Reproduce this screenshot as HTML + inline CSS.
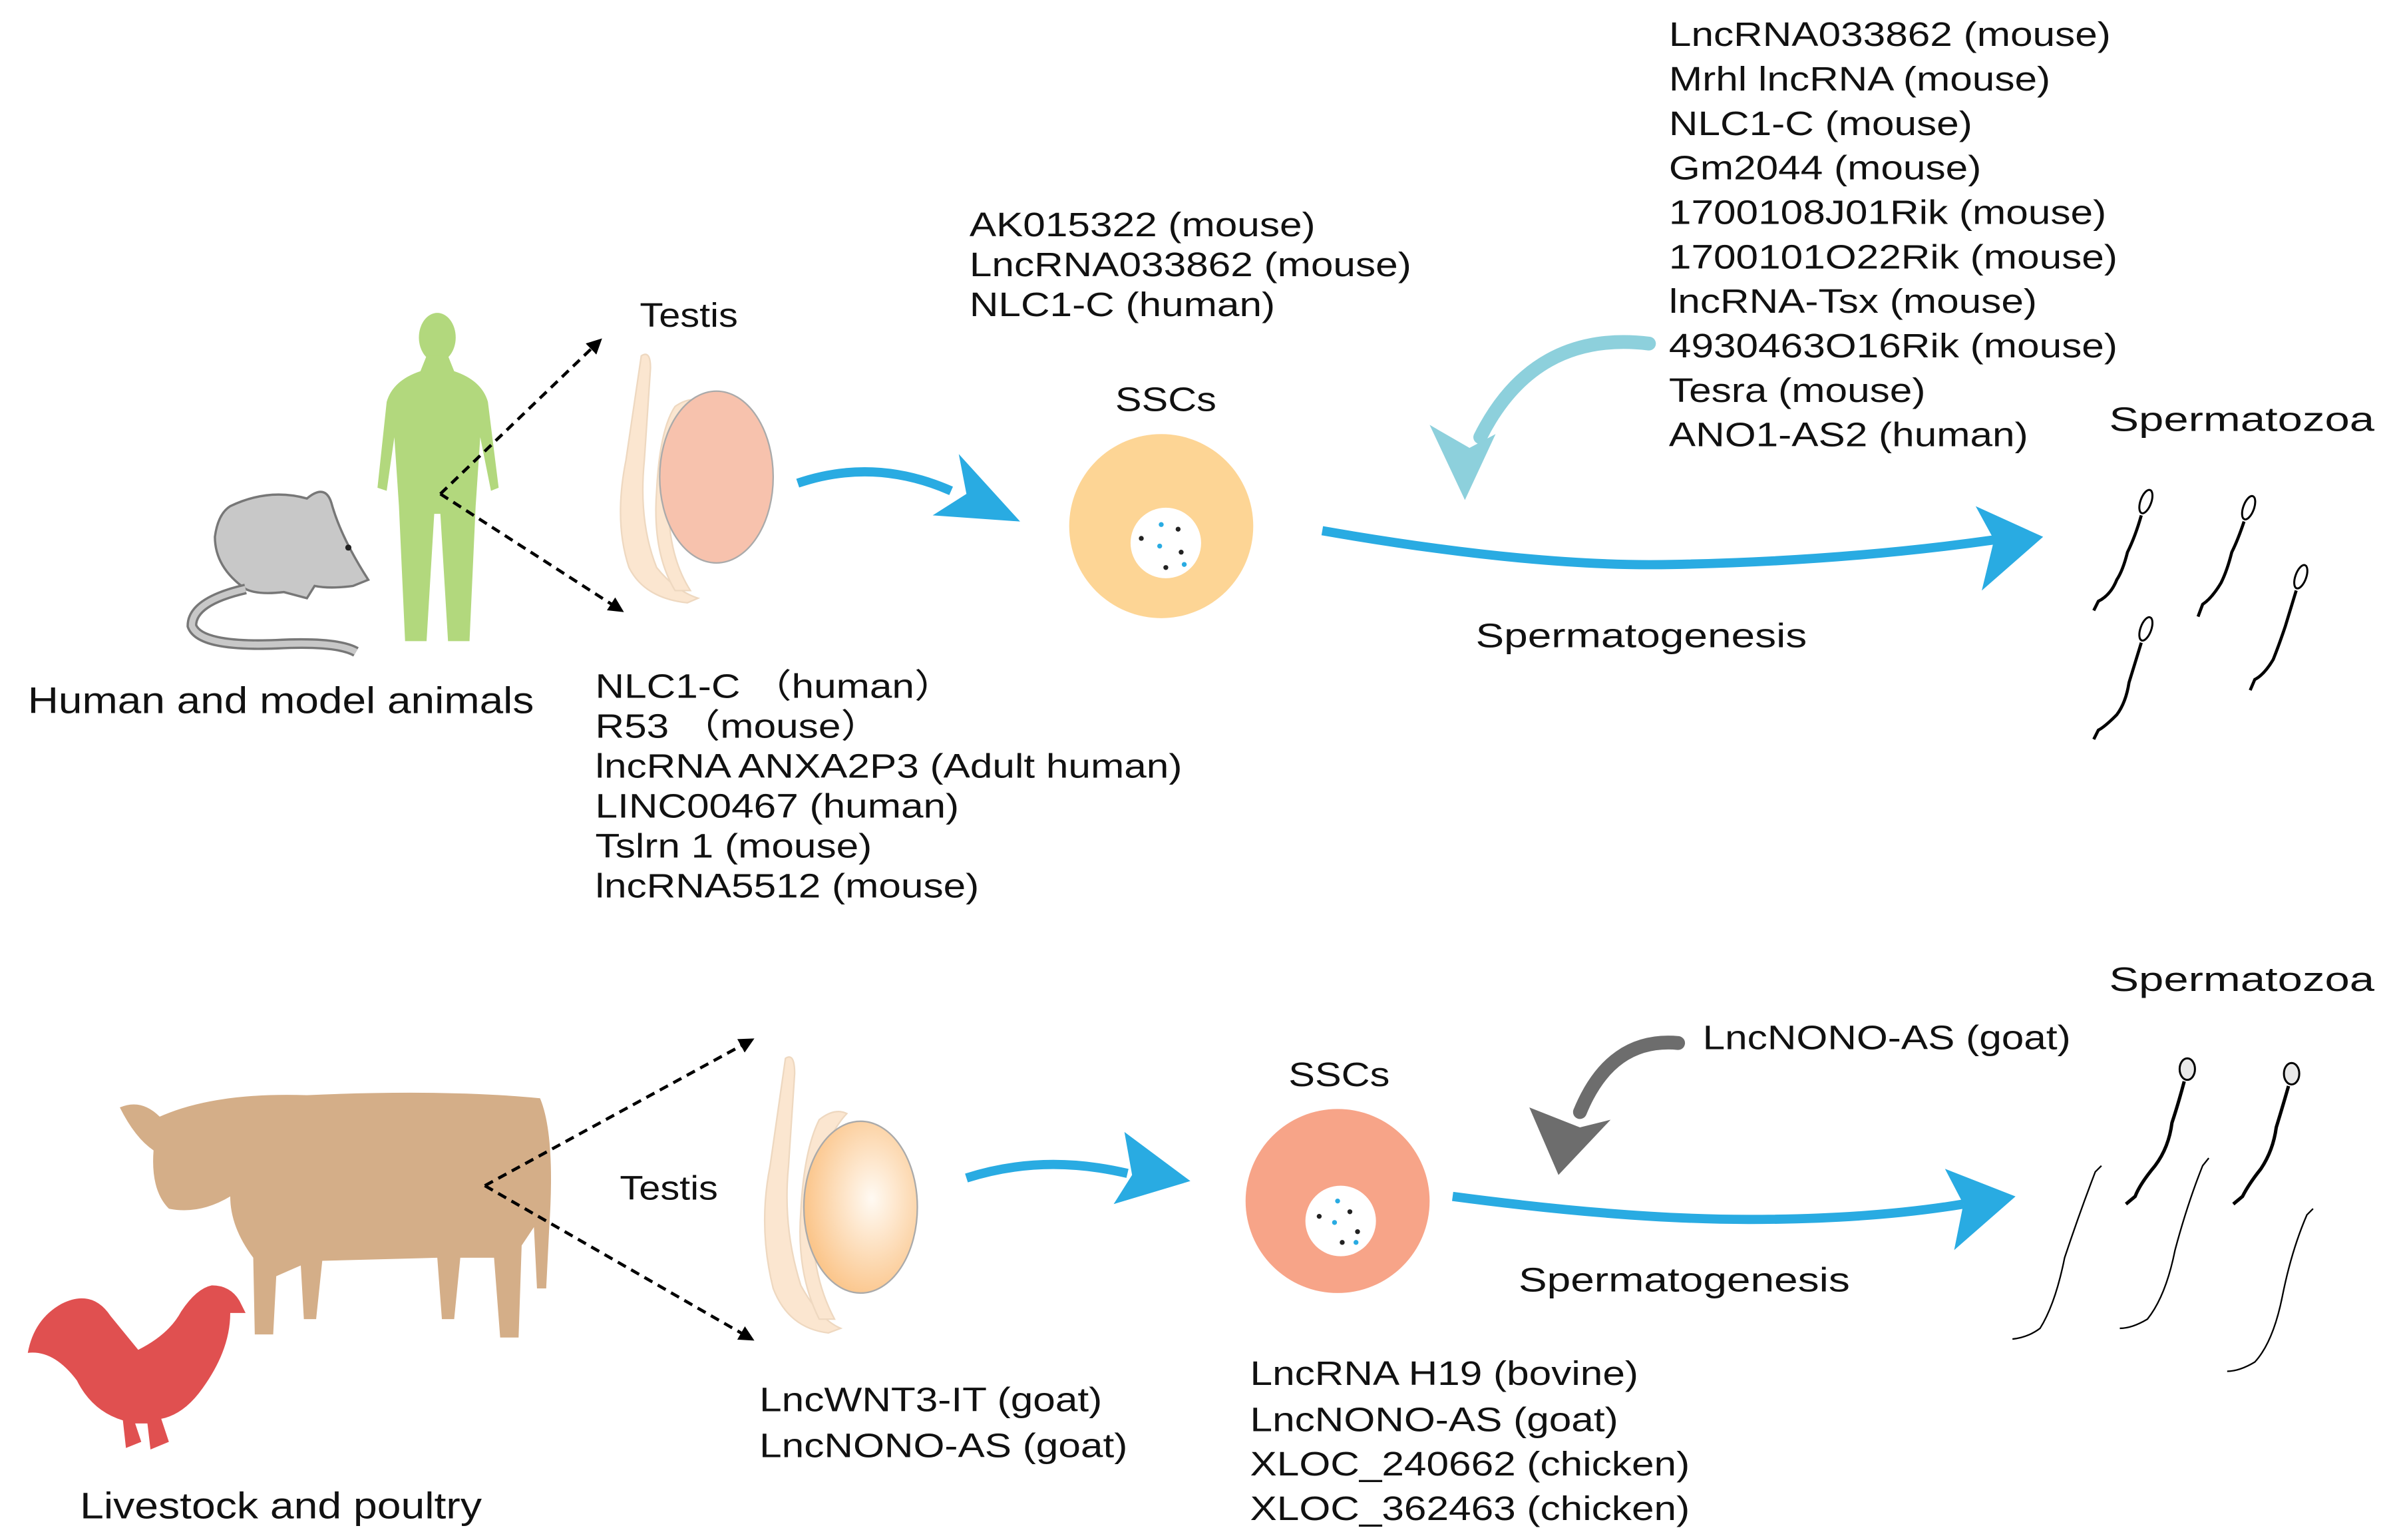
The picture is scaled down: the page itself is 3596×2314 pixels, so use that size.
<!DOCTYPE html>
<html><head><meta charset="utf-8"><style>
html,body{margin:0;padding:0;background:#fff;}
svg{display:block;}
text{font-family:"Liberation Sans",Arial,sans-serif;fill:#111;}
</style></head><body>
<svg width="3596" height="2314" viewBox="0 0 1560 1004" xmlns="http://www.w3.org/2000/svg">
<defs>
<marker id="ah" markerWidth="10" markerHeight="10" refX="8" refY="5" orient="auto" markerUnits="userSpaceOnUse"><path d="M0,0 L10,5 L0,10 Z" fill="#000"/></marker>
<radialGradient id="tg" cx="0.6" cy="0.45" r="0.6"><stop offset="0" stop-color="#fffaf3"/><stop offset="1" stop-color="#fbc58a"/></radialGradient>
</defs>
<rect width="1560" height="1004" fill="#fff"/>

<!-- mouse -->
<path d="M150,330 Q175,318 200,325 Q212,315 216,328 Q222,350 240,378 L230,382 Q215,384 205,382 L200,390 L185,386 Q168,388 160,384 Q140,370 140,350 Q142,335 150,330 Z" fill="#c8c8c8" stroke="#777" stroke-width="1.5"/>
<path d="M160,384 Q125,392 125,408 Q130,422 180,420 Q220,418 232,425" fill="none" stroke="#777" stroke-width="7"/>
<path d="M160,384 Q125,392 125,408 Q130,422 180,420 Q220,418 232,425" fill="none" stroke="#c8c8c8" stroke-width="4"/>
<circle cx="227" cy="357" r="2" fill="#222"/>
<!-- human -->
<g fill="#b2d87d">
<ellipse cx="285" cy="220" rx="12" ry="16"/>
<path d="M278,232 L292,232 L296,242 Q314,248 318,262 L325,318 L320,320 L313,285 L310,330 L306,418 L292,418 L287,335 L283,335 L278,418 L264,418 L260,330 L257,285 L252,320 L246,318 L252,262 Q256,248 274,242 Z"/>
</g>
<line x1="287" y1="322" x2="391" y2="222" stroke="#000" stroke-width="2" stroke-dasharray="6,4" marker-end="url(#ah)"/>
<line x1="287" y1="322" x2="405" y2="398" stroke="#000" stroke-width="2" stroke-dasharray="6,4" marker-end="url(#ah)"/>

<text x="18" y="465" font-size="24" textLength="330" lengthAdjust="spacingAndGlyphs">Human and model animals</text>
<text x="417" y="213" font-size="22" textLength="64" lengthAdjust="spacingAndGlyphs">Testis</text>

<path d="M418,232 Q424,228 424,240 L420,300 Q416,340 428,370 Q440,385 455,390 L448,393 Q420,390 410,370 Q400,340 408,300 Z" fill="#fbe6d0" stroke="#eed8c0" stroke-width="1"/>
<path d="M440,265 Q450,258 458,262 Q440,280 436,320 Q434,360 450,385 L440,385 Q425,360 428,320 Q430,280 440,265 Z" fill="#fbe6d0" stroke="#eed8c0"/>
<ellipse cx="467" cy="311" rx="37" ry="56" fill="#f7c2ad" stroke="#aaa" stroke-width="1"/>

<path d="M520,315 Q570,298 620,320" fill="none" stroke="#29abe2" stroke-width="6"/>
<path d="M625,296 L665,340 L608,336 L630,322 Z" fill="#29abe2"/>

<text x="727" y="268" font-size="22" textLength="66" lengthAdjust="spacingAndGlyphs">SSCs</text>
<circle cx="757" cy="343" r="60" fill="#fdd595"/>
<circle cx="760" cy="354" r="23" fill="#fff"/>
<g fill="#222"><circle cx="744" cy="351" r="1.6"/><circle cx="768" cy="345" r="1.6"/><circle cx="770" cy="360" r="1.6"/><circle cx="760" cy="370" r="1.6"/></g>
<g fill="#29abe2"><circle cx="757" cy="342" r="1.6"/><circle cx="756" cy="356" r="1.6"/><circle cx="772" cy="368" r="1.6"/></g>

<g transform="matrix(1.19,0,0,1,-120.1,0)"><text font-size="22"><tspan x="632" y="154">AK015322 (mouse)</tspan><tspan x="632" y="180">LncRNA033862 (mouse)</tspan><tspan x="632" y="206">NLC1-C (human)</tspan></text></g>

<g transform="matrix(1.19,0,0,1,-73.7,0)"><text font-size="22"><tspan x="388" y="455">NLC1-C （human）</tspan><tspan x="388" y="481">R53 （mouse）</tspan><tspan x="388" y="507">lncRNA ANXA2P3 (Adult human)</tspan><tspan x="388" y="533">LINC00467 (human)</tspan><tspan x="388" y="559">Tslrn 1 (mouse)</tspan><tspan x="388" y="585">lncRNA5512 (mouse)</tspan></text></g>

<path d="M862,346 Q1000,370 1090,368 Q1200,366 1300,352" fill="none" stroke="#29abe2" stroke-width="6"/>
<path d="M1288,330 L1332,350 L1292,385 L1300,352 Z" fill="#29abe2"/>
<text x="962" y="422" font-size="22" textLength="216" lengthAdjust="spacingAndGlyphs">Spermatogenesis</text>

<path d="M1075,224 Q1000,215 965,285" fill="none" stroke="#8dd0dc" stroke-width="9" stroke-linecap="round"/>
<path d="M932,277 L955,326 L975,283 L958,292 Z" fill="#8dd0dc"/>

<g transform="matrix(1.19,0,0,1,-206.7,0)"><text font-size="22"><tspan x="1088" y="30">LncRNA033862 (mouse)</tspan><tspan x="1088" y="59">Mrhl lncRNA (mouse)</tspan><tspan x="1088" y="88">NLC1-C (mouse)</tspan><tspan x="1088" y="117">Gm2044 (mouse)</tspan><tspan x="1088" y="146">1700108J01Rik (mouse)</tspan><tspan x="1088" y="175">1700101O22Rik (mouse)</tspan><tspan x="1088" y="204">lncRNA-Tsx (mouse)</tspan><tspan x="1088" y="233">4930463O16Rik (mouse)</tspan><tspan x="1088" y="262">Tesra (mouse)</tspan><tspan x="1088" y="291">ANO1-AS2 (human)</tspan></text></g>
<text x="1375" y="281" font-size="22" textLength="173" lengthAdjust="spacingAndGlyphs">Spermatozoa</text>

<g fill="#fff" stroke="#000" stroke-width="1.3">
<ellipse cx="1399" cy="327" rx="3.5" ry="8" transform="rotate(20 1399 327)"/>
<ellipse cx="1466" cy="331" rx="3.5" ry="8" transform="rotate(20 1466 331)"/>
<ellipse cx="1500" cy="376" rx="3.5" ry="8" transform="rotate(20 1500 376)"/>
<ellipse cx="1399" cy="410" rx="3.5" ry="8" transform="rotate(20 1399 410)"/>
</g>
<g fill="none" stroke="#000" stroke-width="2">
<path d="M1396,336 Q1392,350 1387,360 Q1384,372 1380,378 Q1376,388 1368,392 L1365,398"/>
<path d="M1463,340 Q1459,352 1455,360 Q1452,372 1448,380 Q1442,390 1436,394 L1433,402"/>
<path d="M1497,385 Q1493,398 1490,408 Q1486,420 1482,430 Q1476,440 1470,443 L1467,450"/>
<path d="M1396,419 Q1392,432 1388,445 Q1386,458 1380,466 Q1372,474 1368,476 L1365,482"/>
</g>

<!-- bottom -->
<path d="M78,722 Q92,716 104,728 Q140,712 200,714 Q290,710 352,716 Q362,740 358,800 L356,840 L350,840 L348,800 L340,812 L338,872 L326,872 L322,820 L300,820 L296,860 L288,860 L285,820 L210,822 L206,860 L198,860 L196,825 L180,832 L178,870 L166,870 L165,820 Q150,800 150,780 Q130,792 110,788 Q98,776 100,750 Q88,742 78,722 Z" fill="#d4ae88"/>
<path d="M40,850 Q60,840 72,858 L90,880 Q110,870 118,855 Q128,840 138,838 Q150,838 156,848 L160,856 L150,856 Q150,880 132,905 Q120,922 105,925 L110,940 L98,945 L96,928 L88,928 L92,940 L82,944 L80,926 Q60,920 50,900 Q35,880 18,882 Q22,860 40,850 Z" fill="#e05050"/>
<line x1="316" y1="773" x2="490" y2="678" stroke="#000" stroke-width="2" stroke-dasharray="6,4" marker-end="url(#ah)"/>
<line x1="316" y1="773" x2="490" y2="873" stroke="#000" stroke-width="2" stroke-dasharray="6,4" marker-end="url(#ah)"/>
<text x="404" y="782" font-size="22" textLength="64" lengthAdjust="spacingAndGlyphs">Testis</text>
<text x="52" y="990" font-size="24" textLength="262" lengthAdjust="spacingAndGlyphs">Livestock and poultry</text>

<path d="M512,690 Q518,686 518,700 L514,760 Q510,800 522,838 Q534,860 548,866 L540,869 Q514,866 504,840 Q494,800 502,760 Z" fill="#fbe6d0" stroke="#eed8c0"/>
<path d="M534,730 Q544,722 552,726 Q534,745 530,790 Q528,830 544,860 L534,860 Q519,830 522,790 Q524,750 534,730 Z" fill="#fbe6d0" stroke="#eed8c0"/>
<ellipse cx="561" cy="787" rx="37" ry="56" fill="url(#tg)" stroke="#aaa"/>

<path d="M630,768 Q680,752 735,765" fill="none" stroke="#29abe2" stroke-width="6"/>
<path d="M733,738 L776,770 L726,785 L738,766 Z" fill="#29abe2"/>

<text x="840" y="708" font-size="22" textLength="66" lengthAdjust="spacingAndGlyphs">SSCs</text>
<circle cx="872" cy="783" r="60" fill="#f7a488"/>
<circle cx="874" cy="796" r="23" fill="#fff"/>
<g fill="#222"><circle cx="860" cy="793" r="1.6"/><circle cx="880" cy="790" r="1.6"/><circle cx="885" cy="803" r="1.6"/><circle cx="875" cy="810" r="1.6"/></g>
<g fill="#29abe2"><circle cx="872" cy="783" r="1.6"/><circle cx="870" cy="797" r="1.6"/><circle cx="884" cy="810" r="1.6"/></g>

<path d="M1094,680 Q1050,676 1030,725" fill="none" stroke="#6d6d6d" stroke-width="9" stroke-linecap="round"/>
<path d="M997,722 L1016,766 L1050,730 L1030,735 Z" fill="#6d6d6d"/>
<text x="1110" y="684" font-size="22" textLength="240" lengthAdjust="spacingAndGlyphs">LncNONO-AS (goat)</text>

<path d="M947,780 Q1060,795 1140,795 Q1220,795 1280,785" fill="none" stroke="#29abe2" stroke-width="6"/>
<path d="M1268,762 L1314,780 L1274,815 L1280,785 Z" fill="#29abe2"/>
<text x="990" y="842" font-size="22" textLength="216" lengthAdjust="spacingAndGlyphs">Spermatogenesis</text>
<text x="1375" y="646" font-size="22" textLength="173" lengthAdjust="spacingAndGlyphs">Spermatozoa</text>

<g fill="#e8e8e8" stroke="#000" stroke-width="1.3">
<ellipse cx="1426" cy="697" rx="5" ry="7"/>
<ellipse cx="1494" cy="700" rx="5" ry="7"/>
</g>
<g fill="none" stroke="#000" stroke-width="2.2">
<path d="M1424,705 Q1420,720 1416,732 Q1414,748 1405,760 Q1395,772 1392,780 L1386,785"/>
<path d="M1492,708 Q1488,722 1484,735 Q1482,750 1474,762 Q1466,772 1462,780 L1456,785"/>
</g>
<g fill="none" stroke="#000" stroke-width="1">
<path d="M1370,760 L1366,764 Q1356,790 1346,820 Q1340,850 1330,866 Q1322,872 1312,873"/>
<path d="M1440,755 L1436,760 Q1426,785 1418,815 Q1412,845 1400,860 Q1390,866 1382,866"/>
<path d="M1508,788 L1504,792 Q1494,815 1488,845 Q1482,875 1470,888 Q1460,894 1452,894"/>
</g>

<g transform="matrix(1.19,0,0,1,-94.05,0)"><text font-size="22"><tspan x="495" y="920">LncWNT3-IT (goat)</tspan><tspan x="495" y="950">LncNONO-AS (goat)</tspan></text></g>
<g transform="matrix(1.19,0,0,1,-154.9,0)"><text font-size="22"><tspan x="815" y="903">LncRNA H19 (bovine)</tspan><tspan x="815" y="933">LncNONO-AS (goat)</tspan><tspan x="815" y="962">XLOC_240662 (chicken)</tspan><tspan x="815" y="991">XLOC_362463 (chicken)</tspan></text></g>
</svg>
</body></html>
